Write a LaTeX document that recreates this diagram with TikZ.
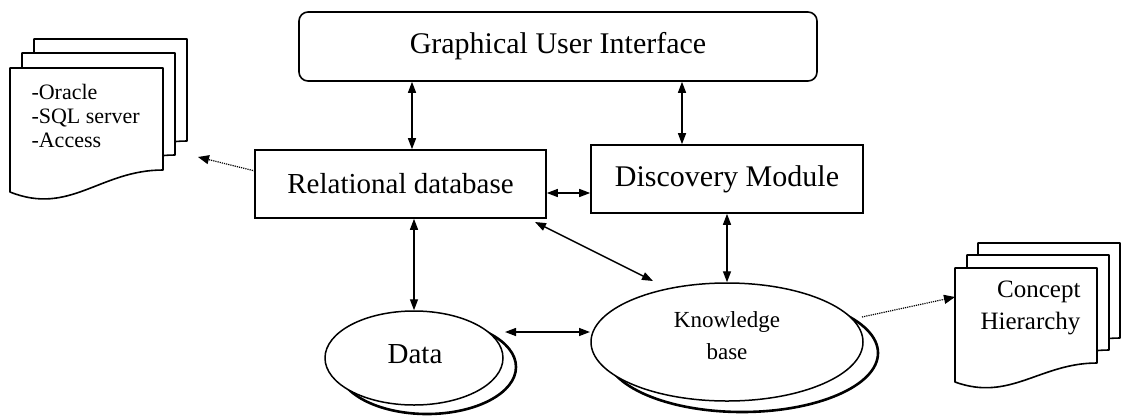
\documentclass[tikz,border=0pt]{standalone}
\usepackage{fontspec}
\setmainfont{Liberation Serif}
\usetikzlibrary{arrows.meta,shapes.geometric,calc}
\begin{document}
\begin{tikzpicture}[x=1pt,y=-1pt,
  box/.style={draw, line width=1.6pt, inner sep=0pt, fill=white},
  ell/.style={draw, ellipse, line width=1.5pt, inner sep=0pt, fill=white},
  biarr/.style={line width=1.4pt, {Triangle[length=11pt,width=8pt]}-{Triangle[length=11pt,width=8pt]}},
  dotarr/.style={line width=1.2pt, densely dotted, -{Triangle[length=11pt,width=9pt]}},
  docline/.style={draw, line width=1.6pt, fill=white, line join=round},
  ldoc/.pic={\path[docline] (0,0) -- (153,0) -- (153,102) .. controls (90,102) and (60,148) .. (0,124) -- cycle;},
  rdoc/.pic={\path[docline] (0,0) -- (142,0) -- (142,95) .. controls (85,95) and (55,134) .. (0,114) -- cycle;},
  big/.style={font=\fontsize{30}{36}\selectfont}
]
\fill[white] (0,0) rectangle (1121,416);
\useasboundingbox (0,0) rectangle (1121,416);

% boxes
\node[box, rounded corners=9pt, minimum width=518pt, minimum height=69pt, big] (gui) at (558,46.5) {Graphical User Interface};
\node[box, minimum width=291pt, minimum height=68pt, font=\fontsize{29}{35}\selectfont] (rdb) at (400.5,184) {Relational database};
\node[box, minimum width=272pt, minimum height=68pt, big] (dm) at (727,179) {Discovery Module};

% ellipses
\node[ell, line width=2.6pt, minimum width=178pt, minimum height=94pt] (datash) at (427,367) {};
\node[ell, minimum width=178pt, minimum height=94pt] (data) at (414,358) {};
\node[font=\fontsize{29}{35}\selectfont] (datat) at (415,354) {Data};
\node[ell, line width=2.6pt, minimum width=272pt, minimum height=118pt] (kbsh) at (742,353) {};
\node[ell, minimum width=272pt, minimum height=118pt] (kb) at (727,342) {};
\node[align=center, font=\fontsize{23}{32}\selectfont] (kbt) at (727,336) {Knowledge\\base};

% documents
\pic at (34,39) {ldoc};
\pic at (22,53) {ldoc};
\pic at (10,68) {ldoc};
\node[anchor=west, align=left, font=\fontsize{22}{24}\selectfont] (ldt) at (28,116) {-Oracle\\-SQL server\\-Access};
\coordinate (ltip) at (198,157);

\pic at (978,243) {rdoc};
\pic at (967,255) {rdoc};
\pic at (955,268) {rdoc};
\node[anchor=east, align=right, font=\fontsize{25}{32}\selectfont] (rdt) at (1084,308) {Concept\\Hierarchy};
\coordinate (rtip) at (955,297);

% connectors
\coordinate (a1) at ([xshift=11.5pt]rdb.north);
\draw[biarr] (a1) -- (a1 |- gui.south);
\coordinate (a2) at ([xshift=-45pt]dm.north);
\draw[biarr] (a2) -- (a2 |- gui.south);
\coordinate (a3) at ([yshift=-9pt]rdb.east);
\draw[biarr] (a3) -- (a3 -| dm.west);
\draw[biarr] (dm.south) -- (kb.north);
\draw[biarr] (data.north) -- (data.north |- rdb.south);
\coordinate (d1) at (535,222);
\coordinate (d2) at (653,281);
\draw[biarr] (d1) -- (d2);
\coordinate (h1) at (505,332);
\coordinate (h2) at (590,332);
\draw[biarr] (h1) -- (h2);
\coordinate (l1) at (255,171);
\draw[dotarr] (l1) -- (ltip);
\coordinate (r1) at (862,317);
\draw[dotarr] (r1) -- (rtip);
\end{tikzpicture}
\end{document}
